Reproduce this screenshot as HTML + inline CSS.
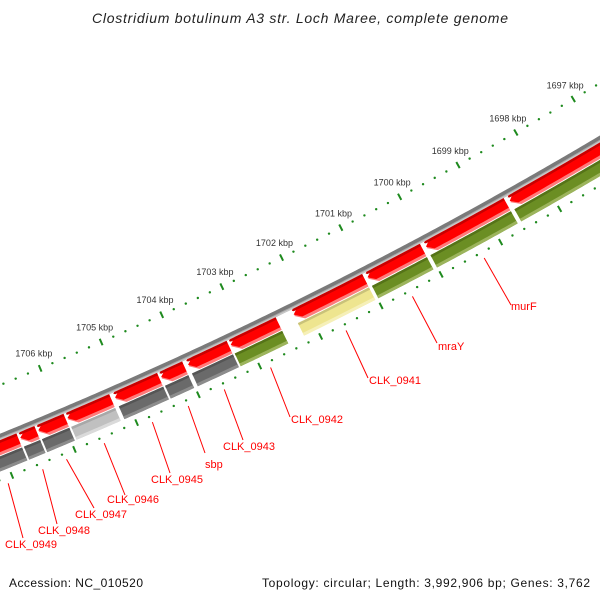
<!DOCTYPE html>
<html><head><meta charset="utf-8"><style>
html,body{margin:0;padding:0;background:#fff}
svg{display:block}
text{font-family:"Liberation Sans",sans-serif}
</style></head><body>
<svg id="chart" width="600" height="600" viewBox="0 0 600 600" xmlns="http://www.w3.org/2000/svg">
<rect width="600" height="600" fill="#fff"/>
<text x="300" y="23" text-anchor="middle" font-size="14" font-style="italic" fill="#222" textLength="416">Clostridium botulinum A3 str. Loch Maree, complete genome</text>
<g id="ticks"></g>
<g id="backbone"></g>
<g id="genes"></g>
<g id="labels"></g>
<text x="9" y="587" font-size="12" fill="#111" textLength="134">Accession: NC_010520</text>
<text x="590" y="587" text-anchor="end" font-size="12" fill="#111" textLength="328">Topology: circular; Length: 3,992,906 bp; Genes: 3,762</text>
</svg>
<script>
// ---- data ----
const geneNames = ["CLK_0949","CLK_0948","CLK_0947","CLK_0946","CLK_0945","sbp","CLK_0943","CLK_0942","CLK_0941","mraY","murF","next-gene"];
const geneStartKbp = [1707.5,1706.69,1706.40,1705.93,1705.16,1704.41,1703.97,1703.27,1702.23,1701.00,1700.02,1698.60];
const geneEndKbp   = [1706.69,1706.40,1705.93,1705.19,1704.41,1704.00,1703.27,1702.46,1701.02,1700.05,1698.63,1696.9];
const geneCategory = ["gray","gray","gray","light","gray","gray","gray","green","yellow","green","green","green"];
const tickLabelKbp = [1697,1698,1699,1700,1701,1702,1703,1704,1705,1706];
// label layout (text x, baseline y, leader end x, leader end y)
const labelTextX = [5,38,75,107,151,205,223,291,369,438,511];
const labelTextY = [548,534,518,503,483,468,450,423,384,350,310];
const leaderEndX = [23,57,94,125,170,205,243,290,368,437,511];
const leaderEndY = [538,524,508,495,473,453,440,417,378,343,305];

// ---- geometry ----
const NS="http://www.w3.org/2000/svg";
const A=[0,437],B=[300,302],C=[600,139];
function circ(a,b,c){
  const d=2*(a[0]*(b[1]-c[1])+b[0]*(c[1]-a[1])+c[0]*(a[1]-b[1]));
  const s=p=>p[0]*p[0]+p[1]*p[1];
  const ux=(s(a)*(b[1]-c[1])+s(b)*(c[1]-a[1])+s(c)*(a[1]-b[1]))/d;
  const uy=(s(a)*(c[0]-b[0])+s(b)*(a[0]-c[0])+s(c)*(b[0]-a[0]))/d;
  return [ux,uy,Math.hypot(a[0]-ux,a[1]-uy)];
}
const [cx,cy,R0]=circ(A,B,C);
const th1700=Math.atan2(278-cy,443-cx);
const kRad=67.7/(R0+38);
function pt(kbp,off){const t=th1700+(kbp-1700)*kRad;const r=R0+off;return [cx+r*Math.cos(t),cy+r*Math.sin(t)];}
function el(tag,attrs,parent){const e=document.createElementNS(NS,tag);for(const k in attrs)e.setAttribute(k,attrs[k]);parent.appendChild(e);return e;}
function bandPts(p1,p2,o1,o2){const a=[];const n=Math.max(2,Math.ceil(Math.abs(p1-p2)/0.05));
  for(let i=0;i<=n;i++)a.push(pt(p1+(p2-p1)*i/n,o1));
  for(let i=n;i>=0;i--)a.push(pt(p1+(p2-p1)*i/n,o2));return a;}
function arrowPts(p1,p2,o1,o2,ah){ // arrowhead at p1 (higher kbp)
  const a=[];const pb=p1-ah;const n=Math.max(2,Math.ceil(Math.abs(pb-p2)/0.05));
  for(let i=0;i<=n;i++)a.push(pt(p2+(pb-p2)*i/n,o1));
  a.push(pt(p1,(o1+o2)/2));
  for(let i=n;i>=0;i--)a.push(pt(p2+(pb-p2)*i/n,o2));return a;}
const ps=a=>a.map(p=>p[0].toFixed(2)+","+p[1].toFixed(2)).join(" ");

// ---- ticks ----
const tk=document.getElementById("ticks");
for(let i=0;i<=60;i++){
  const p=1696+i*0.2;const major=Math.abs(p-Math.round(p))<1e-6;
  [-48,40].forEach(off=>{
    if(major){const a=pt(p,off-3.5),b=pt(p,off+3.5);
      const ln=el("line",{x1:a[0],y1:a[1],x2:b[0],y2:b[1],stroke:"#1e8a1e","stroke-width":2},tk);
      
      
    }else{const c=pt(p,off);
      const d=el("circle",{cx:c[0],cy:c[1],r:1.2,fill:"#1e8a1e"},tk);
      
      
    }
  });
}
tickLabelKbp.forEach(k=>{const c=pt(k,-64);
  const t=el("text",{x:c[0],y:c[1]+3,"text-anchor":"middle","font-size":"9",fill:"#333"},tk);
  t.textContent=k+" kbp";
  
  
});

// ---- backbone ----
const bb=document.getElementById("backbone");
[[-3,3,"#a8a8a8"],[-3,0.5,"#7a7a7a"],[1.5,3,"#c8c8c8"]].forEach(s=>{
  const p=el("polygon",{points:ps(bandPts(1709,1695.5,s[0],s[1])),fill:s[2]},bb);
  
  
});

// ---- genes ----
const gg=document.getElementById("genes");
const catColors={gray:["#555","#6a6a6a","#8c8c8c"],light:["#a8a8a8","#c0c0c0","#dadada"],green:["#557318","#6b8e23","#9cb45c"],yellow:["#c9c27a","#eee58f","#f6f0b8"]};
const gap=0.015;
geneNames.forEach((name,i)=>{
  const p1=geneStartKbp[i]-gap,p2=geneEndKbp[i]+gap;
  // strand arrow (red)
  [[3,17,"#ff7a7a"],[3,14,"#ff0000"],[3,5.5,"#c80000"]].forEach(s=>{
    const a=el("polygon",{points:ps(arrowPts(p1,p2,s[0],s[1],0.13*(s[1]-s[0])/14)),fill:s[2]},gg);
    
    
  });
  // category band
  const cc=catColors[geneCategory[i]];
  [[18,32,cc[1]],[18,20.5,cc[0]],[29,32,cc[2]]].forEach(s=>{
    const b=el("polygon",{points:ps(bandPts(p1,p2,s[0],s[1])),fill:s[2]},gg);
    
    
  });
});

// ---- labels ----
const lg=document.getElementById("labels");
labelTextX.forEach((x,i)=>{
  const mid=(geneStartKbp[i]+geneEndKbp[i])/2;const s=pt(mid,46);
  const l=el("line",{x1:s[0],y1:s[1],x2:leaderEndX[i],y2:leaderEndY[i],stroke:"#f00","stroke-width":1},lg);
  
  
  const t=el("text",{x:x,y:labelTextY[i],"font-size":"11",fill:"#f00"},lg);
  t.textContent=geneNames[i];
  
  
});
</script>
</body></html>
